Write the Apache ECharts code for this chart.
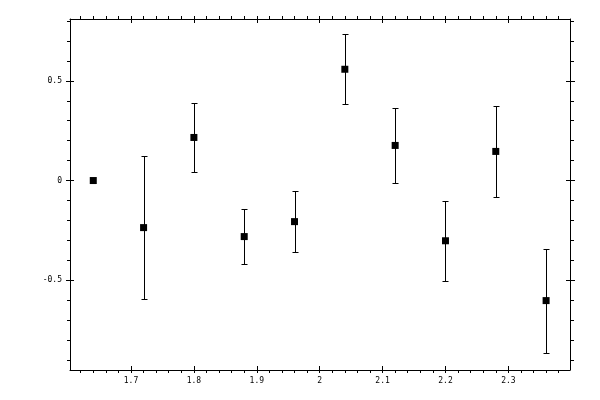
<!DOCTYPE html>
<html>
<head>
<meta charset="utf-8">
<script src="https://cdn.jsdelivr.net/npm/echarts@6/dist/echarts.min.js"></script>
<style>
html,body{margin:0;padding:0;background:#fff;}
#chart{width:600px;height:400px;}
</style>
</head>
<body>
<div id="chart"></div>
<script>
// Data
var xValues = [1.64, 1.72, 1.80, 1.88, 1.96, 2.04, 2.12, 2.20, 2.28, 2.36];
var yValues = [0, -0.236, 0.216, -0.281, -0.206, 0.558, 0.176, -0.302, 0.146, -0.602];
var yErrors = [0, 0.36, 0.171, 0.138, 0.153, 0.175, 0.186, 0.20, 0.228, 0.261];

// Axis ticks / labels
var xMajorTicks = [1.7, 1.8, 1.9, 2, 2.1, 2.2, 2.3];
var xMinorTicks = [1.62,1.64,1.66,1.68,1.7,1.72,1.74,1.76,1.78,1.8,1.82,1.84,1.86,1.88,1.9,1.92,1.94,1.96,1.98,2,2.02,2.04,2.06,2.08,2.1,2.12,2.14,2.16,2.18,2.2,2.22,2.24,2.26,2.28,2.3,2.32,2.34,2.36,2.38];
var yMajorTicks = [-0.5, 0, 0.5];
var yMinorTicks = [-0.9,-0.8,-0.7,-0.6,-0.5,-0.4,-0.3,-0.2,-0.1,0,0.1,0.2,0.3,0.4,0.5,0.6,0.7,0.8];
var xRange = [1.603, 2.398];
var yRange = [-0.95, 0.81];

var pointData = xValues.map(function (x, i) { return [x, yValues[i]]; });
var errData = xValues.map(function (x, i) { return [x, yValues[i], yErrors[i]]; });

var font = 'DejaVu Sans Mono';
function xAx(pos, inside, ticks, len, labels, line) {
  return {
    type: 'value', position: pos, min: xRange[0], max: xRange[1],
    splitLine: {show: false},
    axisLine: {show: line, onZero: false, lineStyle: {color: '#000', width: 1}},
    axisTick: {show: true, inside: inside, length: len, customValues: ticks, lineStyle: {color: '#000', width: 1}},
    axisLabel: labels ? {show: true, customValues: labels, color: '#000', fontFamily: font, fontSize: 8, margin: 7} : {show: false}
  };
}
function yAx(pos, inside, ticks, len, labels, line) {
  return {
    type: 'value', position: pos, min: yRange[0], max: yRange[1],
    splitLine: {show: false},
    axisLine: {show: line, onZero: false, lineStyle: {color: '#000', width: 1}},
    axisTick: {show: true, inside: inside, length: len, customValues: ticks, lineStyle: {color: '#000', width: 1}},
    axisLabel: labels ? {show: true, customValues: labels, color: '#000', fontFamily: font, fontSize: 8, margin: 8} : {show: false}
  };
}

var chart = echarts.init(document.getElementById('chart'), null, {renderer: 'canvas'});
chart.setOption({
  animation: false,
  backgroundColor: '#fff',
  grid: {left: 70, right: 30, top: 19, bottom: 30, containLabel: false},
  xAxis: [
    xAx('bottom', false, xMinorTicks, 3, xMajorTicks, true),
    xAx('bottom', true, xMajorTicks, 4, null, false),
    xAx('top', false, xMinorTicks, 3, null, true),
    xAx('top', true, xMajorTicks, 4, null, false)
  ],
  yAxis: [
    yAx('left', false, yMinorTicks, 3, yMajorTicks, true),
    yAx('left', true, yMajorTicks, 4, null, false),
    yAx('left', false, yMajorTicks, 4, null, false),
    yAx('right', false, yMinorTicks, 4, null, true),
    yAx('right', true, yMajorTicks, 4, null, false),
    yAx('right', false, yMajorTicks, 5, null, false)
  ],
  series: [
    {
      type: 'custom',
      xAxisIndex: 0, yAxisIndex: 0,
      data: errData,
      encode: {x: 0, y: 1},
      silent: true,
      renderItem: function (params, api) {
        var x = api.value(0), y = api.value(1), e = api.value(2);
        if (!e) return null;
        var top = api.coord([x, y + e]);
        var bot = api.coord([x, y - e]);
        var cx = Math.round(top[0]) + 0.5;
        var ty = Math.round(top[1]) + 0.5;
        var by = Math.round(bot[1]) + 0.5;
        var hw = 2.5;
        var style = {stroke: '#000', lineWidth: 1, fill: null};
        return {
          type: 'group',
          children: [
            {type: 'line', shape: {x1: cx, y1: ty, x2: cx, y2: by}, style: style},
            {type: 'line', shape: {x1: cx - hw - 0.5, y1: ty, x2: cx + hw + 0.5, y2: ty}, style: style},
            {type: 'line', shape: {x1: cx - hw - 0.5, y1: by, x2: cx + hw + 0.5, y2: by}, style: style}
          ]
        };
      },
      z: 2
    },
    {
      type: 'scatter',
      xAxisIndex: 0, yAxisIndex: 0,
      data: pointData,
      symbol: 'rect',
      symbolSize: 7,
      itemStyle: {color: '#000', opacity: 1},
      silent: true,
      z: 3
    }
  ]
});
</script>
</body>
</html>
